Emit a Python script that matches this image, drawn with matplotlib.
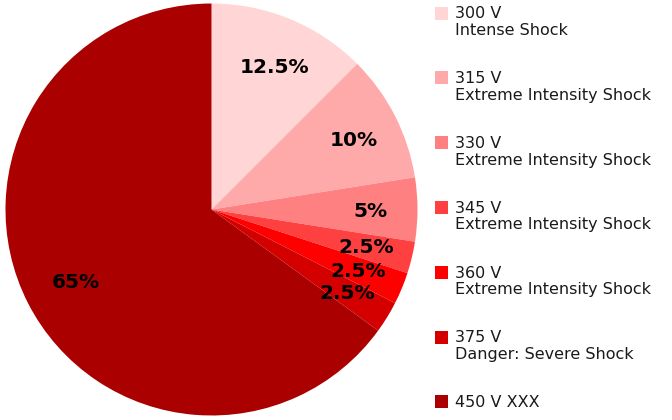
import math
import matplotlib
matplotlib.use('Agg')
import matplotlib.pyplot as plt
from matplotlib.patches import Rectangle

# 数据
shares = [12.5, 10, 5, 2.5, 2.5, 2.5, 65]
pct_labels = ['12.5%', '10%', '5%', '2.5%', '2.5%', '2.5%', '65%']
voltages = ['300 V', '315 V', '330 V', '345 V', '360 V', '375 V', '450 V XXX']
descriptions = ['Intense Shock', 'Extreme Intensity Shock', 'Extreme Intensity Shock',
                'Extreme Intensity Shock', 'Extreme Intensity Shock',
                'Danger: Severe Shock', '']
colors = ['#ffd5d5', '#ffaaaa', '#ff8080', '#ff4040', '#ff0000', '#d40000', '#aa0000']

W, H = 672, 420
cx, cy, R = 211.5, H - 209.5, 206

fig = plt.figure(figsize=(W / 100, H / 100), dpi=100)
ax = fig.add_axes([0, 0, 1, 1])

# 饼图 (像素坐标, y向上)
ax.pie(shares, colors=colors, startangle=90, counterclock=False,
       center=(cx, cy), radius=R, frame=True,
       wedgeprops=dict(linewidth=0))
ax.set_xlim(0, W)
ax.set_ylim(0, H)
ax.set_aspect('equal')
ax.axis('off')

# 百分比标签
ang = 90
for s, lab in zip(shares, pct_labels):
    mid = ang - s * 3.6 / 2
    ang -= s * 3.6
    x = cx + 156 * math.cos(math.radians(mid))
    y = cy + 156 * math.sin(math.radians(mid))
    ax.annotate(lab, (x, y), xytext=(3, -7.5), textcoords='offset pixels',
                ha='center', va='baseline', fontsize=14.5, fontweight='bold', color='black')

# 图例
for i, (v, d, c) in enumerate(zip(voltages, descriptions, colors)):
    top = 6.5 + i * 64.8
    ax.add_patch(Rectangle((435, H - top - 13), 13, 13, facecolor=c, edgecolor='none'))
    ax.text(455, H - top - 12, v, ha='left', va='baseline', fontsize=11.5, color='#1a1a1a')
    if d:
        ax.text(455, H - top - 28.5, d, ha='left', va='baseline', fontsize=11.5, color='#1a1a1a')

fig.savefig('out.png', dpi=100, facecolor='white')
